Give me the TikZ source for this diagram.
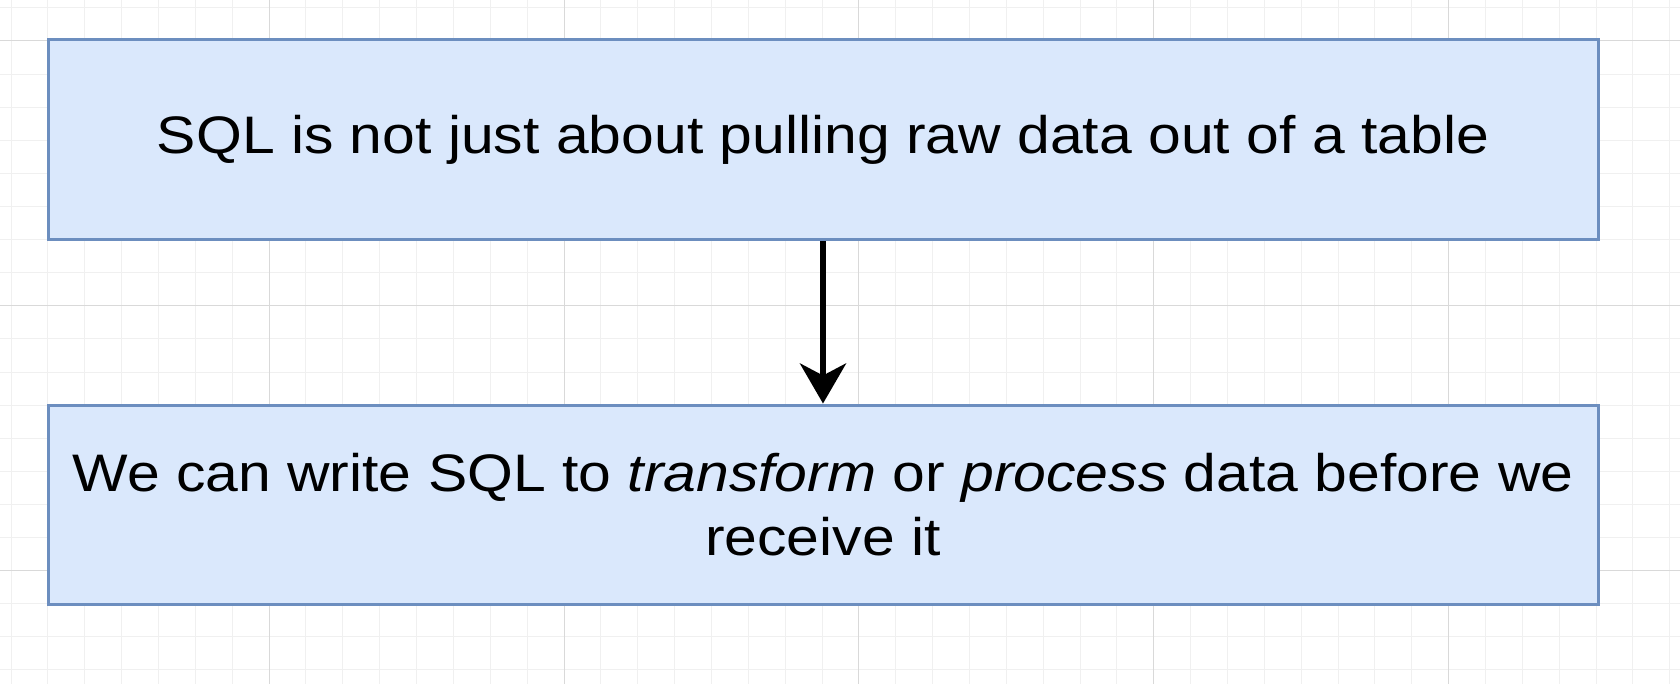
\documentclass[tikz,border=0pt]{standalone}
\usepackage{fontspec}
\setmainfont{Liberation Sans}[FakeStretch=1.115]
\usetikzlibrary{arrows.meta}

\definecolor{boxfill}{HTML}{DAE8FC}
\definecolor{boxline}{HTML}{6C8EBF}
\definecolor{gridminor}{HTML}{F0F0F0}
\definecolor{gridmajor}{HTML}{D9D9D9}

\tikzset{
  sqlbox/.style={draw=boxline,fill=boxfill,line width=1.5pt,
    minimum width=775pt,minimum height=100pt,inner sep=0pt,
    align=center,font=\fontsize{26.4}{31.7}\selectfont},
  flowarrow/.style={line width=3pt,-{Stealth[length=20pt,width=23pt,inset=6pt]}}
}

\begin{document}
\begin{tikzpicture}[x=0.5pt,y=-0.5pt]
\useasboundingbox (0,0) rectangle (1680,684);
\fill[white] (0,0) rectangle (1680,684);
% grid
\foreach \k in {0,...,20}
  \draw[gridminor,line width=0.5pt] (0,{7.9+33.1*\k}) -- (1680,{7.9+33.1*\k});
\foreach \k in {0,...,45}
  \draw[gridminor,line width=0.5pt] ({11.1+36.86*\k},0) -- ({11.1+36.86*\k},684);
\foreach \k in {1,9,17}
  \draw[gridmajor,line width=0.5pt] (0,{7.9+33.1*\k}) -- (1680,{7.9+33.1*\k});
\foreach \k in {7,15,23,31,39}
  \draw[gridmajor,line width=0.5pt] ({11.1+36.86*\k},0) -- ({11.1+36.86*\k},684);
% boxes
\node[sqlbox] (raw) at (823,140) {SQL is not just about pulling raw data out of a table};
\node[sqlbox,minimum height=99.5pt] (transform) at (823,504.5) {We can write SQL to \textit{transform} or \textit{process} data before we\\receive it};
\draw[flowarrow] (raw.south) -- (transform.north);
\end{tikzpicture}
\end{document}
